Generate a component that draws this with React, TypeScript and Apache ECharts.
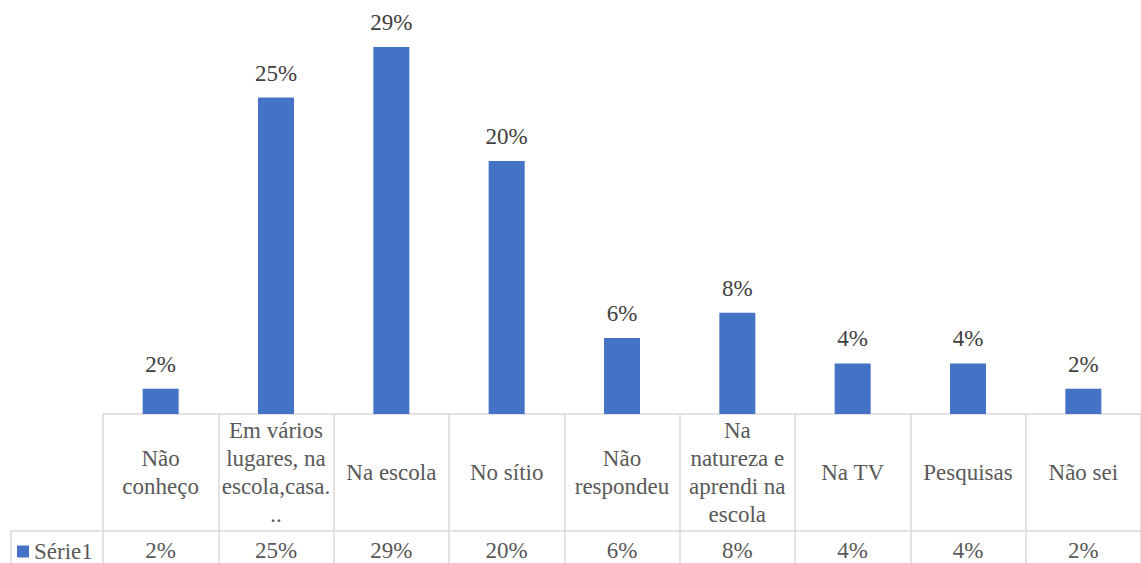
import React, { useEffect, useRef } from "react";
import * as echarts from "echarts";

const categories = [
  "Não\nconheço",
  "Em vários\nlugares, na\nescola,casa.\n..",
  "Na escola",
  "No sítio",
  "Não\nrespondeu",
  "Na\nnatureza e\naprendi na\nescola",
  "Na TV",
  "Pesquisas",
  "Não sei",
];
const values = [2, 25, 29, 20, 6, 8, 4, 4, 2];
const seriesName = "Série1";

const FONT = "Liberation Serif";

export default function App() {
  const ref = useRef<HTMLDivElement>(null);
  useEffect(() => {
    if (!ref.current) return;
    const chart = echarts.init(ref.current, null, { renderer: "svg" });
    const valueLabels = values.map((v) => v + "%");
    chart.setOption({
      animation: false,
      textStyle: { fontFamily: FONT },
      legend: {
        data: [seriesName],
        left: 17,
        top: 540,
        padding: 0,
        icon: "rect",
        itemWidth: 12,
        itemHeight: 12,
        itemGap: 4,
        textStyle: { fontFamily: FONT, fontSize: 23, color: "#595959", padding: [0, 0, 0, 0] },
      },
      grid: { left: 103, width: 1042, top: 9, height: 405 },
      xAxis: [
        {
          type: "category",
          data: categories,
          position: "bottom",
          axisLine: { show: true, lineStyle: { color: "#d9d9d9", width: 1.5 } },
          axisTick: {
            show: true,
            interval: 0,
            alignWithLabel: false,
            length: 150,
            lineStyle: { color: "#d9d9d9", width: 1.5 },
          },
          axisLabel: {
            interval: 0,
            margin: 58,
            verticalAlign: "middle",
            fontFamily: FONT,
            fontSize: 23,
            lineHeight: 28,
            color: "#595959",
          },
        },
        {
          type: "category",
          data: valueLabels,
          position: "bottom",
          axisLine: { show: false },
          axisTick: { show: false },
          axisLabel: {
            interval: 0,
            margin: 136,
            verticalAlign: "middle",
            fontFamily: FONT,
            fontSize: 23,
            color: "#595959",
          },
        },
      ],
      yAxis: {
        type: "value",
        min: 0,
        max: 32,
        show: false,
        splitLine: { show: false },
      },
      series: [
        {
          name: seriesName,
          type: "bar",
          data: values,
          barWidth: 36,
          itemStyle: { color: "#4472C4" },
          label: {
            show: true,
            position: "top",
            distance: 13,
            formatter: "{c}%",
            fontFamily: FONT,
            fontSize: 23,
            color: "#404040",
          },
        },
      ],
      graphic: [
        {
          type: "line",
          shape: { x1: 11, y1: 531, x2: 1141, y2: 531 },
          style: { stroke: "#d9d9d9", lineWidth: 1.5 },
        },
        {
          type: "line",
          shape: { x1: 11, y1: 531, x2: 11, y2: 563 },
          style: { stroke: "#d9d9d9", lineWidth: 1.5 },
        },
      ],
    });
    return () => chart.dispose();
  }, []);
  return (
    <div
      ref={ref}
      style={{ position: "fixed", left: 0, top: 0, width: 1141, height: 563, background: "#fff" }}
    />
  );
}
